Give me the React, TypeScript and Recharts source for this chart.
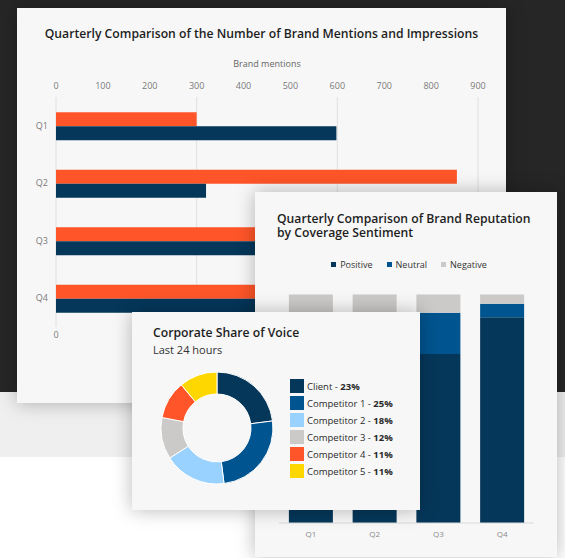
import React from 'react';
import { BarChart, Bar, XAxis, YAxis, CartesianGrid, PieChart, Pie, Cell, Legend } from 'recharts';

// ---- Card 1: brand mentions & impressions ----
const quarters = ['Q1', 'Q2', 'Q3', 'Q4'];
const impressions = [300, 855, 700, 760];
const mentions = [598, 320, 650, 800];
const mentionTicks = [0, 100, 200, 300, 400, 500, 600, 700, 800, 900];
const gridTicks = [0, 300, 600, 900];

// ---- Card 2: sentiment (percent) ----
const sentimentSeries = ['Positive', 'Neutral', 'Negative'];
const positive = [55, 60, 74, 90];
const neutral = [28, 25, 18, 6];
const negative = [17, 15, 8, 4];

// ---- Card 3: share of voice ----
const voiceNames = ['Client', 'Competitor 1', 'Competitor 2', 'Competitor 3', 'Competitor 4', 'Competitor 5'];
const voiceShares = [23, 25, 18, 12, 11, 11];

const NAVY = '#05375a';
const BLUE = '#00548f';
const LIGHTBLUE = '#99d1ff';
const GRAY = '#cbcac8';
const ORANGE = '#ff5529';
const YELLOW = '#ffd700';
const voiceColors = [NAVY, BLUE, LIGHTBLUE, GRAY, ORANGE, YELLOW];
const sentimentColors = [NAVY, BLUE, GRAY];

const FONT = '"Open Sans", "Noto Sans", sans-serif';

const mentionsData = quarters.map((q, i) => ({ quarter: q, impressions: impressions[i], mentions: mentions[i] }));
const sentimentData = quarters.map((q, i) => ({ quarter: q, Positive: positive[i], Neutral: neutral[i], Negative: negative[i] }));
const voiceData = voiceNames.map((n, i) => ({ name: n, value: voiceShares[i] }));

const cardBase: React.CSSProperties = {
  position: 'absolute',
  background: '#f7f7f7',
  boxShadow: '0 0 18px rgba(0,0,0,0.28)',
  overflow: 'hidden',
};

const titleStyle: React.CSSProperties = {
  position: 'absolute',
  fontFamily: FONT,
  fontWeight: 600,
  fontSize: 12.2,
  color: '#1e1e1e',
  whiteSpace: 'nowrap',
  margin: 0,
};

const SentimentLegend = () => (
  <div style={{ display: 'flex', justifyContent: 'center', paddingLeft: 6, fontFamily: FONT, fontSize: 9, color: '#333' }}>
    {sentimentSeries.map((s, i) => (
      <span key={s} style={{ display: 'flex', alignItems: 'center', marginLeft: i === 0 ? 0 : 14 }}>
        <span style={{ display: 'inline-block', width: 5, height: 5, background: sentimentColors[i], marginRight: 4 }} />
        {s}
      </span>
    ))}
  </div>
);

const VoiceLegend = () => (
  <div style={{ fontFamily: FONT, fontSize: 9.5, color: '#2a2a2a' }}>
    {voiceData.map((d, i) => (
      <div key={d.name} style={{ display: 'flex', alignItems: 'center', height: 14, marginBottom: 3 }}>
        <span style={{ display: 'inline-block', width: 14, height: 14, background: voiceColors[i], marginRight: 3 }} />
        <span>
          {d.name} - <b style={{ fontWeight: 700 }}>{d.value}%</b>
        </span>
      </div>
    ))}
  </div>
);

export default function App() {
  return (
    <div
      style={{
        position: 'absolute',
        left: 0,
        top: 0,
        width: 565,
        height: 558,
        overflow: 'hidden',
        fontFamily: FONT,
        background: 'linear-gradient(to bottom, #262626 0px, #262626 392px, #efefef 392px, #efefef 457px, #ffffff 457px)',
      }}
    >
      {/* Card 1 */}
      <div style={{ ...cardBase, left: 17, top: 8, width: 489, height: 395 }}>
        <div style={{ ...titleStyle, left: 0, width: 489, textAlign: 'center', top: 17 }}>
          Quarterly Comparison of the Number of Brand Mentions and Impressions
        </div>
        <div style={{ position: 'absolute', left: 0, top: 0 }}>
          <BarChart
            width={489}
            height={395}
            data={mentionsData}
            layout="vertical"
            margin={{ top: 60, right: 28, bottom: 46, left: 0 }}
            barCategoryGap="26.5%"
            barGap={0}
          >
            <CartesianGrid xAxisId="bottom" horizontal={false} stroke="#e0e0e0" />
            <XAxis
              xAxisId="top"
              orientation="top"
              type="number"
              domain={[0, 900]}
              ticks={mentionTicks}
              axisLine={false}
              tickLine={false}
              height={29}
              tick={{ fontSize: 9, fill: '#7a7a7a', fontFamily: FONT }}
              label={{ value: 'Brand mentions', position: 'top', offset: 1, fontSize: 9, fill: '#666', fontFamily: FONT }}
            />
            <XAxis
              xAxisId="bottom"
              orientation="bottom"
              type="number"
              domain={[0, 900]}
              ticks={gridTicks}
              axisLine={false}
              tickLine={false}
              tickSize={0}
              tickMargin={5}
              height={30}
              tick={{ fontSize: 9, fill: '#7a7a7a', fontFamily: FONT }}
            />
            <YAxis
              type="category"
              dataKey="quarter"
              width={39}
              axisLine={false}
              tickLine={false}
              tick={{ fontSize: 9, fill: '#7a7a7a', fontFamily: FONT }}
            />
            <Bar xAxisId="top" dataKey="impressions" name="Impressions" fill={ORANGE} isAnimationActive={false} />
            <Bar xAxisId="bottom" dataKey="mentions" name="Brand mentions" fill={NAVY} isAnimationActive={false} />
          </BarChart>
        </div>
      </div>

      {/* Card 2 */}
      <div style={{ ...cardBase, left: 255, top: 192, width: 302, height: 365 }}>
        <div style={{ ...titleStyle, left: 22, top: 20, lineHeight: '13.5px' }}>
          Quarterly Comparison of Brand Reputation
          <br />
          by Coverage Sentiment
        </div>
        <div style={{ position: 'absolute', left: 0, top: 0 }}>
          <BarChart
            width={302}
            height={365}
            data={sentimentData}
            margin={{ top: 102.5, right: 23, bottom: 14, left: 24 }}
            barCategoryGap="15.5%"
          >
            <XAxis
              dataKey="quarter"
              height={20}
              axisLine={{ stroke: '#d9d9d9' }}
              tickLine={false}
              tick={{ fontSize: 8, fill: '#8a8a8a', fontFamily: FONT }}
            />
            <YAxis hide domain={[0, 100]} />
            <Legend
              layout="horizontal"
              verticalAlign="middle"
              align="center"
              wrapperStyle={{ top: 66, left: 0, width: 302 }}
              content={SentimentLegend}
            />
            <Bar dataKey="Positive" stackId="s" fill={NAVY} isAnimationActive={false} />
            <Bar dataKey="Neutral" stackId="s" fill={BLUE} isAnimationActive={false} />
            <Bar dataKey="Negative" stackId="s" fill={GRAY} isAnimationActive={false} />
          </BarChart>
        </div>
      </div>

      {/* Card 3 */}
      <div style={{ ...cardBase, left: 132, top: 312, width: 288, height: 198 }}>
        <div style={{ ...titleStyle, left: 21, top: 12 }}>Corporate Share of Voice</div>
        <div style={{ position: 'absolute', left: 21, top: 30, fontFamily: FONT, fontSize: 11, color: '#333', whiteSpace: 'nowrap' }}>
          Last 24 hours
        </div>
        <div style={{ position: 'absolute', left: 0, top: 0 }}>
          <PieChart width={288} height={198} margin={{ top: 0, right: 0, bottom: 0, left: 0 }}>
            <Pie
              data={voiceData}
              dataKey="value"
              nameKey="name"
              cx={85}
              cy={116}
              innerRadius={34}
              outerRadius={56}
              startAngle={90}
              endAngle={-270}
              stroke="#ffffff"
              strokeWidth={1}
              isAnimationActive={false}
            >
              {voiceData.map((d, i) => (
                <Cell key={d.name} fill={voiceColors[i]} />
              ))}
            </Pie>
            <Legend
              layout="vertical"
              verticalAlign="middle"
              align="center"
              wrapperStyle={{ top: 67, left: 158, width: 130 }}
              content={VoiceLegend}
            />
          </PieChart>
        </div>
      </div>
    </div>
  );
}
